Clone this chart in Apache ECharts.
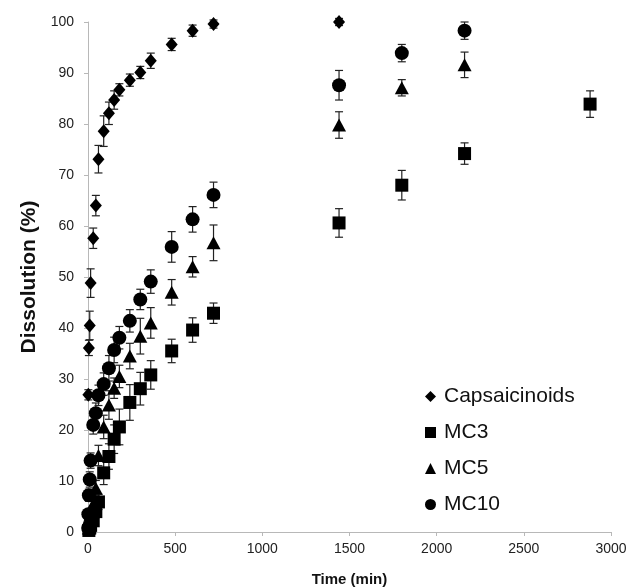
<!doctype html>
<html lang="en">
<head>
    <meta charset="UTF-8">
    <title>Dissolution</title>
    <style>
        html, body { margin: 0; padding: 0; background: #fff; }
        #chart { width: 632px; height: 588px; }
    </style>
</head>
<body>
<div id="chart"></div>
<script src="https://cdn.jsdelivr.net/npm/echarts@6/dist/echarts.min.js"></script>
<script type="text/javascript">
    // time (min), mean dissolution (%), error (±)
    var capTime = [2, 5, 10, 15, 30, 45, 60, 90, 120, 150, 180, 240, 300, 360, 480, 600, 720, 1440];
    var capVal  = [26.9, 36.1, 40.5, 48.8, 57.6, 64.0, 73.1, 78.6, 82.1, 84.7, 86.7, 88.6, 90.1, 92.4, 95.6, 98.3, 99.6, 100.0];
    var capErr  = [1.0, 1.5, 2.8, 2.8, 2.0, 2.0, 2.7, 3.0, 2.2, 1.8, 1.2, 1.2, 1.2, 1.5, 1.2, 1.1, 0.8, 0.7];

    var mc3Time = [5, 10, 15, 30, 45, 60, 90, 120, 150, 180, 240, 300, 360, 480, 600, 720, 1440, 1800, 2160, 2880];
    var mc3Val  = [0.3, 0.8, 1.3, 2.2, 4.0, 5.9, 11.6, 14.8, 18.2, 20.6, 25.4, 28.1, 30.8, 35.5, 39.6, 42.9, 60.6, 68.0, 74.2, 83.9];
    var mc3Err  = [0.3, 0.5, 0.8, 1.0, 1.2, 1.5, 2.3, 2.5, 2.8, 3.5, 3.5, 3.2, 2.8, 2.3, 2.4, 2.0, 2.8, 2.9, 2.1, 2.6];

    var mc5Time = [5, 10, 15, 30, 45, 60, 90, 120, 150, 180, 240, 300, 360, 480, 600, 720, 1440, 1800, 2160];
    var mc5Val  = [0.8, 2.0, 3.5, 5.5, 8.6, 15.0, 20.6, 24.9, 28.2, 30.5, 34.5, 38.4, 41.0, 47.0, 52.0, 56.7, 79.8, 87.1, 91.6];
    var mc5Err  = [0.5, 0.8, 1.0, 1.2, 1.5, 2.0, 2.3, 2.8, 2.0, 2.2, 2.5, 3.5, 3.0, 2.5, 2.0, 3.5, 2.6, 1.6, 2.5];

    var mc10Time = [1, 2, 5, 10, 15, 30, 45, 60, 90, 120, 150, 180, 240, 300, 360, 480, 600, 720, 1440, 1800, 2160];
    var mc10Val  = [0.8, 3.5, 7.2, 10.3, 14.0, 21.0, 23.3, 26.8, 29.0, 32.1, 35.7, 38.1, 41.4, 45.6, 49.1, 55.9, 61.3, 66.1, 87.6, 93.9, 98.3];
    var mc10Err  = [0.4, 0.8, 1.2, 1.5, 1.5, 1.8, 2.0, 2.0, 2.2, 2.5, 2.5, 2.2, 2.2, 2.0, 2.3, 3.0, 2.5, 2.5, 2.9, 1.7, 1.7];

    var seriesNames = ['Capsaicinoids', 'MC3', 'MC5', 'MC10'];
    var symbols = ['diamond', 'rect', 'triangle', 'circle'];
    var symbolSizes = [[12, 14], 13, [14, 13], 14];
    var allData = [
        [capTime, capVal, capErr],
        [mc3Time, mc3Val, mc3Err],
        [mc5Time, mc5Val, mc5Err],
        [mc10Time, mc10Val, mc10Err]
    ];

    var chart = echarts.init(document.getElementById('chart'));

    function errorBar(params, api) {
        var x = api.value(0);
        var top = api.coord([x, api.value(2)]);
        var bot = api.coord([x, api.value(1)]);
        var w = 4;
        var st = { stroke: '#222', lineWidth: 1.2 };
        return {
            type: 'group',
            children: [
                { type: 'line', shape: { x1: top[0], y1: top[1], x2: bot[0], y2: bot[1] }, style: st },
                { type: 'line', shape: { x1: top[0] - w, y1: top[1], x2: top[0] + w, y2: top[1] }, style: st },
                { type: 'line', shape: { x1: bot[0] - w, y1: bot[1], x2: bot[0] + w, y2: bot[1] }, style: st }
            ]
        };
    }

    var series = [];
    for (var s = 0; s < allData.length; s++) {
        var t = allData[s][0], v = allData[s][1], e = allData[s][2];
        var pts = [], bars = [];
        for (var i = 0; i < t.length; i++) {
            pts.push([t[i], v[i]]);
            bars.push([t[i], v[i] - e[i], Math.min(v[i] + e[i], 100.8)]);
        }
        series.push({
            name: seriesNames[s] + ' err',
            type: 'custom',
            renderItem: errorBar,
            data: bars,
            z: 1,
            silent: true
        });
        series.push({
            name: seriesNames[s],
            type: 'scatter',
            symbol: symbols[s],
            symbolSize: symbolSizes[s],
            itemStyle: { color: '#000', opacity: 1 },
            data: pts,
            z: 3
        });
    }

    var option = {
        animation: false,
        textStyle: { fontFamily: 'Liberation Sans, Arial, sans-serif' },
        grid: { left: 88, right: 21, top: 22, bottom: 56, outerBoundsMode: 'none', containLabel: false },
        legend: {
            data: [
                { name: 'Capsaicinoids', icon: 'diamond' },
                { name: 'MC3', icon: 'rect' },
                { name: 'MC5', icon: 'triangle' },
                { name: 'MC10', icon: 'circle' }
            ],
            orient: 'vertical',
            left: 420,
            top: 381,
            itemWidth: 11,
            itemHeight: 11,
            itemGap: 15,
            itemStyle: { color: '#000' },
            textStyle: { fontSize: 21, color: '#111', padding: [0, 0, 0, 3] }
        },
        xAxis: {
            type: 'value',
            min: 0,
            max: 3000,
            interval: 500,
            name: 'Time (min)',
            nameLocation: 'middle',
            nameGap: 40,
            nameTextStyle: { fontSize: 15, fontWeight: 'bold', color: '#111' },
            axisLine: { lineStyle: { color: '#b8b8b8', width: 1 } },
            axisTick: { show: true, length: 4, lineStyle: { color: '#b8b8b8' } },
            axisLabel: { fontSize: 14, color: '#222', margin: 10, formatter: function (v) { return String(v); } },
            splitLine: { show: false }
        },
        yAxis: {
            type: 'value',
            min: 0,
            max: 100,
            interval: 10,
            name: 'Dissolution (%)',
            nameLocation: 'middle',
            nameGap: 48,
            nameTextStyle: { fontSize: 21, fontWeight: 'bold', color: '#111' },
            axisLine: { show: true, lineStyle: { color: '#b8b8b8', width: 1 } },
            axisTick: { show: true, length: 4, lineStyle: { color: '#b8b8b8' } },
            axisLabel: { fontSize: 14, color: '#222', margin: 14 },
            splitLine: { show: false }
        },
        series: series
    };
    chart.setOption(option);
</script>
</body>
</html>
